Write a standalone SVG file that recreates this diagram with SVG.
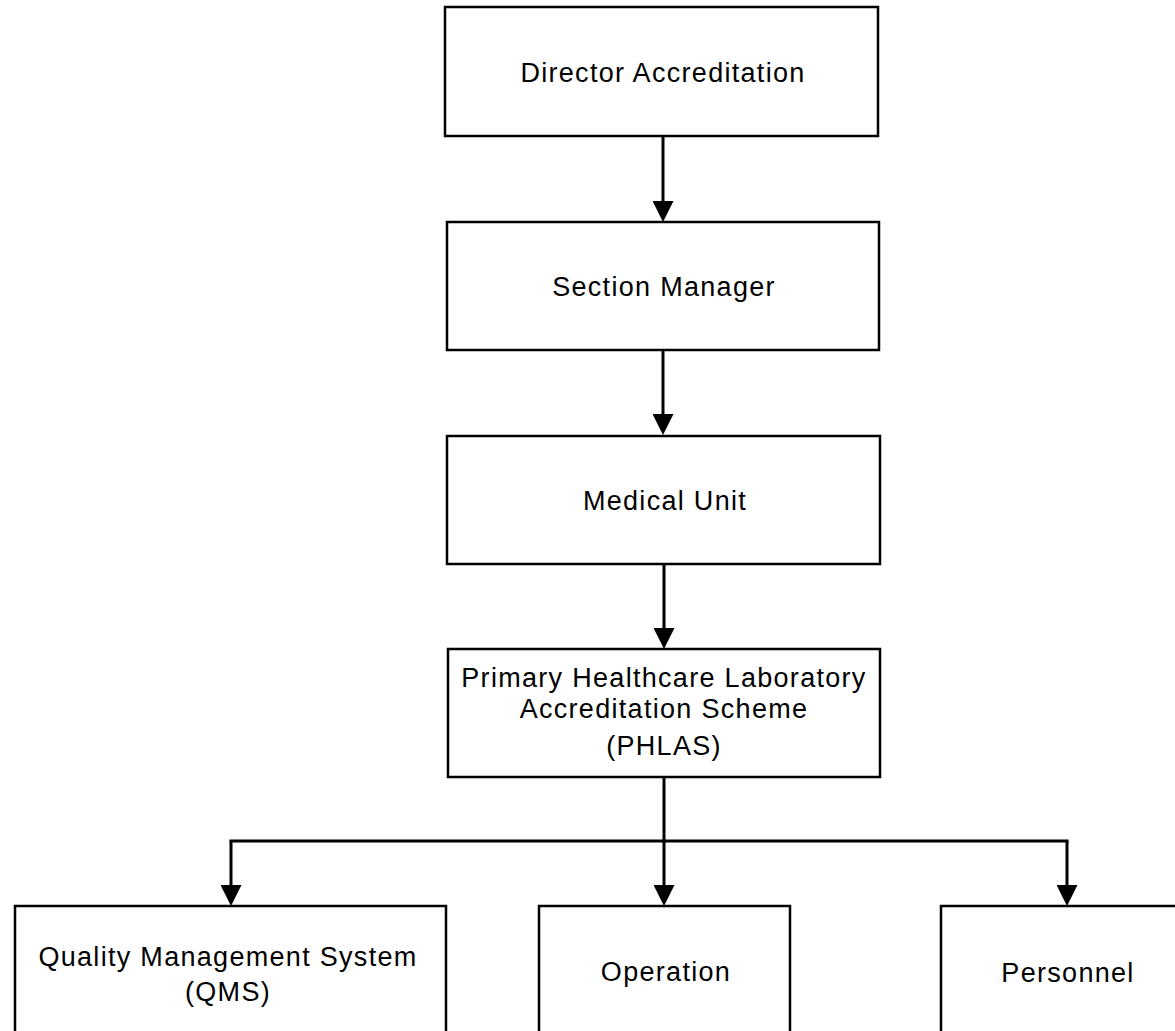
<svg xmlns="http://www.w3.org/2000/svg" width="1175" height="1031" viewBox="0 0 1175 1031">
<style>
.box{fill:#fff;stroke:#000;stroke-width:2.5}
.lbl{font-family:"Liberation Sans",Arial,sans-serif;font-size:27px;letter-spacing:1.3px;fill:#000;text-anchor:middle}
.con{fill:none;stroke:#000;stroke-width:3}
</style>
<defs>
<marker id="ah" viewBox="0 0 10 10" refX="5" refY="5" markerWidth="21" markerHeight="21" markerUnits="userSpaceOnUse" orient="auto">
<path d="M0,0 L10,5 L0,10 z" fill="#000"/>
</marker>
</defs>
<rect width="1175" height="1031" fill="#fff"/>
<g id="connectors">
<line class="con" x1="663" y1="136" x2="663" y2="211.5" marker-end="url(#ah)"/>
<line class="con" x1="663" y1="350" x2="663" y2="424.5" marker-end="url(#ah)"/>
<line class="con" x1="664" y1="564" x2="664" y2="638.5" marker-end="url(#ah)"/>
<line class="con" x1="664" y1="777" x2="664" y2="895.5" marker-end="url(#ah)"/>
<line class="con" x1="229.5" y1="841" x2="1068.5" y2="841"/>
<line class="con" x1="231" y1="841" x2="231" y2="895.5" marker-end="url(#ah)"/>
<line class="con" x1="1067" y1="841" x2="1067" y2="895.5" marker-end="url(#ah)"/>
</g>
<g id="director">
<rect class="box" x="445" y="7" width="433" height="129"/>
<text class="lbl" x="663" y="82">Director Accreditation</text>
</g>
<g id="section-manager">
<rect class="box" x="447" y="222" width="432" height="128"/>
<text class="lbl" x="664" y="296">Section Manager</text>
</g>
<g id="medical-unit">
<rect class="box" x="447" y="436" width="433" height="128"/>
<text class="lbl" x="665" y="510">Medical Unit</text>
</g>
<g id="phlas">
<rect class="box" x="448" y="649" width="432" height="128"/>
<text class="lbl" x="664" y="687">Primary Healthcare Laboratory</text>
<text class="lbl" x="664" y="718">Accreditation Scheme</text>
<text class="lbl" x="664" y="755">(PHLAS)</text>
</g>
<g id="qms">
<rect class="box" x="15" y="906" width="431" height="140"/>
<text class="lbl" x="228" y="966">Quality Management System</text>
<text class="lbl" x="228" y="1001">(QMS)</text>
</g>
<g id="operation">
<rect class="box" x="539" y="906" width="251" height="140"/>
<text class="lbl" x="666" y="981">Operation</text>
</g>
<g id="personnel">
<rect class="box" x="941" y="906" width="252" height="140"/>
<text class="lbl" x="1068" y="982">Personnel</text>
</g>
</svg>
